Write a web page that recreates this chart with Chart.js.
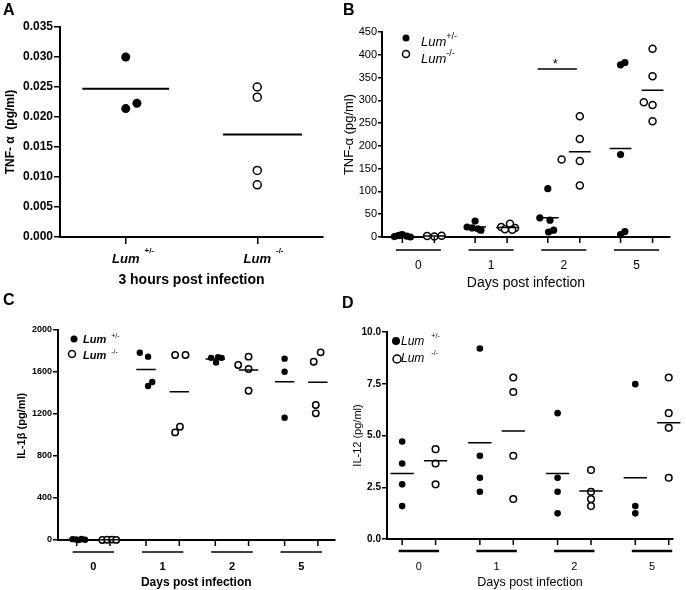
<!DOCTYPE html>
<html>
<head>
<meta charset="utf-8">
<script src="https://cdn.jsdelivr.net/npm/chart.js@4.4.0/dist/chart.umd.min.js"></script>
<style>
body { margin: 0; background: #fff; }
#fig { position: relative; width: 686px; height: 590px; overflow: hidden; background: #fff; }
canvas { position: absolute; }
.tag { position: absolute; font: bold 16px 'Liberation Sans', Arial, sans-serif; line-height: 16px; color: #000; }
</style>
</head>
<body>
<div id="fig">
  <canvas id="cA" width="340" height="300" style="left:0;top:0"></canvas>
  <canvas id="cB" width="346" height="300" style="left:340px;top:0"></canvas>
  <canvas id="cC" width="340" height="290" style="left:0;top:300px"></canvas>
  <canvas id="cD" width="346" height="290" style="left:340px;top:300px"></canvas>
  <div class="tag" style="left:3px;top:2px">A</div>
  <div class="tag" style="left:343px;top:2px">B</div>
  <div class="tag" style="left:3px;top:292px">C</div>
  <div class="tag" style="left:342px;top:295px">D</div>
</div>
<script>
// panel A: TNF-a 3 hours post infection
const aGenos = ['+/-', '-/-'];
const aHet = [0.0300, 0.0214, 0.0223];
const aHetJit = [0, 0, 0.085];
const aKo = [0.0250, 0.0233, 0.0111, 0.0087];
const aMeans = [0.0247, 0.0171];

// panels B-D share the days
const days = ['0', '1', '2', '5'];

// B: TNF-a (pg/ml)
const bHet = [[1, 3, 5, 2, 0, 4], [35, 22, 20, 18, 15], [106, 42, 37, 15, 11], [378, 383, 181, 12, 5]];
const bHetJit = [[-0.11, -0.06, 0, 0.06, 0.11, -0.03], [0, -0.11, -0.04, 0.04, 0.08], [0, -0.11, 0.03, 0.08, 0.01], [0, 0.06, 0, 0.06, 0]];
const bKo = [[2, 1, 3], [29, 22, 20, 17, 16], [265, 215, 170, 167, 113], [413, 353, 296, 290, 254]];
const bKoJit = [[-0.1, 0, 0.1], [0.04, -0.08, 0.11, -0.03, 0.07], [0, 0, -0.25, 0, 0], [0, 0, -0.12, 0, 0]];
const bHetMean = [2, 22, 42, 194];
const bKoMean = [2, 21, 187, 322];
const bSigY = 369;
const bSigSpan = [1.64, 2.18];

// C: IL-1b (pg/ml)
const cHet = [[8, 5, 0, 10, 3], [1784, 1746, 1505, 1467], [1735, 1740, 1735, 1690], [1727, 1603, 1165]];
const cHetJit = [[-0.06, -0.01, 0.03, 0.07, 0.12], [-0.09, 0.03, 0.09, 0.03], [-0.06, 0.04, 0.09, 0.01], [0, 0, 0]];
const cKo = [[0, 2, 4, 1], [1762, 1762, 1079, 1025], [1746, 1667, 1629, 1422], [1787, 1698, 1286, 1206]];
const cKoJit = [[-0.11, -0.04, 0.03, 0.09], [-0.06, 0.09, 0.01, -0.06], [0, -0.15, 0, 0], [0.04, -0.06, -0.03, -0.03]];
const cHetMean = [4, 1625, 1724, 1508];
const cKoMean = [2, 1413, 1619, 1502];

// D: IL-12 (pg/ml)
const dHet = [[4.71, 3.65, 2.64, 1.59], [9.2, 4.02, 2.96, 2.28], [6.08, 2.96, 2.28, 1.24], [7.48, 1.59, 1.24]];
const dKo = [[4.34, 3.65, 2.64], [7.8, 7.1, 4.02, 1.93], [3.33, 2.28, 1.93, 1.59], [7.8, 6.08, 5.37, 2.96]];
const dHetMean = [3.17, 4.65, 3.17, 2.96];
const dKoMean = [3.78, 5.22, 2.32, 5.61];

const FONT = "'Liberation Sans', Arial, sans-serif";
const f = (size, weight, style) => ({ family: FONT, size: size, weight: weight || 'normal', style: style || 'normal' });

function filled(data, r) {
  return { data: data, pointRadius: r, backgroundColor: '#000', borderColor: '#000', borderWidth: 0, clip: false };
}
function open(data, r) {
  return { data: data, pointRadius: r, backgroundColor: '#fff', borderColor: '#000', borderWidth: 1.5, clip: false };
}
function meanLine(data, w) {
  return { data: data, showLine: true, pointRadius: 0, borderColor: '#000', borderWidth: w || 1.5, spanGaps: false, clip: false };
}

// points of one genotype across the day groups
function groupPts(vals, jit, side, col) {
  const out = [];
  vals.forEach((g, i) => g.forEach((y, k) => out.push({ x: i + side * col + (jit ? jit[i][k] : 0), y: y })));
  return out;
}
function groupMeans(means, side, col, half) {
  const out = [];
  means.forEach((y, i) => {
    const c = i + side * col;
    out.push({ x: c - half, y: y }, { x: c + half, y: y }, { x: c, y: null });
  });
  return out;
}

function drawLum(ctx, x, y, sup, o) {
  ctx.fillStyle = '#000';
  ctx.textAlign = 'left';
  ctx.textBaseline = 'alphabetic';
  ctx.font = o.style + ' ' + o.size + 'px ' + FONT;
  ctx.fillText('Lum', x, y);
  const w = ctx.measureText('Lum').width;
  ctx.font = o.supWeight + ' ' + o.supSize + 'px ' + FONT;
  ctx.fillText(sup, x + w + o.gap, y - o.rise);
  return w;
}

function line(ctx, x1, y1, x2, y2, w) {
  ctx.lineWidth = w;
  ctx.beginPath();
  ctx.moveTo(x1, y1);
  ctx.lineTo(x2, y2);
  ctx.stroke();
}

function decoPlugin(o) {
  return {
    id: 'deco',
    afterDraw(chart) {
      const ctx = chart.ctx, xs = chart.scales.x, ys = chart.scales.y, ca = chart.chartArea;
      ctx.save();
      ctx.strokeStyle = '#000';
      if (o.groups) {
        o.groups.forEach((g, i) => {
          [-1, 1].forEach(s => {
            const px = xs.getPixelForValue(i + s * o.col);
            line(ctx, px, ca.bottom, px, ca.bottom + 6, 1.5);
          });
          line(ctx, xs.getPixelForValue(i - o.bar), ca.bottom + o.barDrop,
               xs.getPixelForValue(i + o.bar), ca.bottom + o.barDrop, o.barW);
        });
      }
      if (o.xLum) {
        o.xLum.forEach((sup, i) => {
          ctx.font = o.xLumFont.style + ' ' + o.xLumFont.size + 'px ' + FONT;
          const w = ctx.measureText('Lum').width;
          drawLum(ctx, xs.getPixelForValue(i) - w / 2, ca.bottom + o.xLumDrop, sup, o.xLumFont);
        });
      }
      if (o.legend) {
        const L = o.legend;
        ['+/-', '-/-'].forEach((sup, k) => {
          const m = L.marks[k];
          ctx.beginPath();
          ctx.arc(ca.left + m[0], ca.top + m[1], L.r, 0, Math.PI * 2);
          if (k === 0) { ctx.fillStyle = '#000'; ctx.fill(); }
          else { ctx.fillStyle = '#fff'; ctx.fill(); ctx.lineWidth = 1.5; ctx.stroke(); }
          drawLum(ctx, ca.left + L.textX, ca.top + L.base[k], sup, L.font);
        });
      }
      if (o.sig) {
        const y = ys.getPixelForValue(o.sig.y);
        line(ctx, xs.getPixelForValue(o.sig.span[0]), y, xs.getPixelForValue(o.sig.span[1]), y, 1.5);
        ctx.fillStyle = '#000';
        ctx.font = '13px ' + FONT;
        ctx.textAlign = 'center';
        ctx.textBaseline = 'alphabetic';
        ctx.fillText('*', (xs.getPixelForValue(o.sig.span[0]) + xs.getPixelForValue(o.sig.span[1])) / 2 - 2, y - 1);
      }
      ctx.restore();
    }
  };
}

function panel(id, o) {
  const aw = o.axisW || 2;
  return new Chart(document.getElementById(id), {
    type: 'scatter',
    data: { datasets: o.datasets },
    options: {
      responsive: false,
      animation: false,
      layout: { padding: o.pad },
      plugins: { legend: { display: false }, tooltip: { enabled: false } },
      scales: {
        x: {
          type: 'linear', min: o.xMin, max: o.xMax,
          afterBuildTicks: s => { s.ticks = o.xTicks.map(v => ({ value: v })); },
          afterFit: s => { s.height = o.xH; },
          border: { color: '#000', width: aw },
          grid: { drawOnChartArea: false, drawTicks: o.xTickMarks, tickLength: 7, color: '#000', lineWidth: 1.5 },
          ticks: { callback: (v, i) => o.xLabels[i], padding: o.xPad, color: '#000', font: o.xFont, maxRotation: 0, autoSkip: false },
          title: { display: true, text: o.xTitle, color: '#000', font: o.xTitleFont, padding: { top: 0, bottom: o.xTitlePad } }
        },
        y: {
          min: 0, max: o.yMax,
          afterFit: s => { s.width = o.yW; },
          border: { color: '#000', width: aw },
          grid: { drawOnChartArea: false, tickLength: o.yTickLen, color: '#000', lineWidth: 1.5 },
          ticks: { stepSize: o.yStep, callback: o.yFmt, padding: o.yPad, color: '#000', font: o.yFont },
          title: { display: true, text: o.yTitle, color: '#000', font: o.yTitleFont, padding: { top: o.yTitlePad, bottom: 0 } }
        }
      }
    },
    plugins: [decoPlugin(o.deco)]
  });
}

// ---- A
panel('cA', {
  datasets: [
    meanLine([{ x: -0.33, y: aMeans[0] }, { x: 0.33, y: aMeans[0] }, { x: 0.5, y: null },
              { x: 0.74, y: aMeans[1] }, { x: 1.34, y: aMeans[1] }], 2),
    filled(aHet.map((y, k) => ({ x: aHetJit[k], y: y })), 4.5),
    open(aKo.map(y => ({ x: 1, y: y })), 4)
  ],
  pad: { left: 0, top: 27, right: 17, bottom: 0 },
  xMin: -0.5, xMax: 1.5, xTicks: [0, 1], xLabels: ['', ''], xTickMarks: true, xPad: 0,
  xFont: f(12, 'bold'), xH: 63,
  xTitle: '3 hours post infection', xTitleFont: f(14, 'bold'), xTitlePad: 11.6,
  yMax: 0.035, yStep: 0.005, yFmt: v => v.toFixed(3), yW: 60, yTickLen: 6, yPad: 1,
  yFont: f(12, 'bold'), yTitle: 'TNF- \u03b1  (pg/ml)', yTitleFont: f(12, 'bold'), yTitlePad: 3,
  deco: {
    xLum: aGenos, xLumDrop: 26,
    xLumFont: { style: 'italic bold', size: 13, supWeight: 'bold', supSize: 8, gap: 5, rise: 10 }
  }
});

// ---- B
panel('cB', {
  datasets: [
    meanLine(groupMeans(bHetMean, -1, 0.22, 0.15)),
    meanLine(groupMeans(bKoMean, 1, 0.22, 0.15)),
    filled(groupPts(bHet, bHetJit, -1, 0.22), 3.6),
    open(groupPts(bKo, bKoJit, 1, 0.22), 3.5)
  ],
  pad: { left: 0, top: 32, right: 16, bottom: 0 },
  xMin: -0.5, xMax: 3.46, xTicks: [0, 1, 2, 3], xLabels: days, xTickMarks: false, xPad: 21,
  xFont: f(12), xH: 63,
  xTitle: 'Days post infection', xTitleFont: f(14), xTitlePad: 8.6,
  yMax: 450, yStep: 50, yFmt: v => String(v), yW: 42, yTickLen: 4, yPad: 1,
  yFont: f(11), yTitle: 'TNF-\u03b1 (pg/ml)', yTitleFont: f(13), yTitlePad: 2,
  deco: {
    groups: days, col: 0.22, bar: 0.31, barDrop: 13, barW: 1.5,
    legend: { marks: [[24, 6], [24, 22]], r: 3.5, textX: 39, base: [14, 31],
              font: { style: 'italic', size: 13, supWeight: 'normal', supSize: 9, gap: 0, rise: 7 } },
    sig: { y: bSigY, span: bSigSpan }
  }
});

// ---- C (title nudged up with leading spaces, as in the figure)
panel('cC', {
  datasets: [
    meanLine(groupMeans(cHetMean, -1, 0.24, 0.14)),
    meanLine(groupMeans(cKoMean, 1, 0.24, 0.14)),
    filled(groupPts(cHet, cHetJit, -1, 0.24), 3.2),
    open(groupPts(cKo, cKoJit, 1, 0.24), 3.2)
  ],
  pad: { left: 0, top: 30, right: 5, bottom: 0 },
  xMin: -0.51, xMax: 3.48, xTicks: [0, 1, 2, 3], xLabels: days, xTickMarks: false, xPad: 20.4,
  xFont: f(11, 'bold'), xH: 50,
  xTitle: 'Days post infection', xTitleFont: f(12, 'bold'), xTitlePad: 0,
  yMax: 2000, yStep: 400, yFmt: v => String(v), yW: 58, yTickLen: 5, yPad: 1,
  yFont: f(9, 'bold'), yTitle: '\u00a0\u00a0\u00a0\u00a0\u00a0\u00a0IL-1\u03b2 (pg/ml)', yTitleFont: f(11, 'bold'), yTitlePad: 15,
  deco: {
    groups: days, col: 0.24, bar: 0.3, barDrop: 12, barW: 1.5,
    legend: { marks: [[16, 9], [14, 24]], r: 3.5, textX: 25, base: [13, 29],
              font: { style: 'italic bold', size: 11, supWeight: 'normal', supSize: 7, gap: 5, rise: 5 } }
  }
});

// ---- D
panel('cD', {
  datasets: [
    meanLine(groupMeans(dHetMean, -1, 0.215, 0.15)),
    meanLine(groupMeans(dKoMean, 1, 0.215, 0.15)),
    filled(groupPts(dHet, null, -1, 0.215), 3.3),
    open(groupPts(dKo, null, 1, 0.215), 3.3)
  ],
  pad: { left: 0, top: 32, right: 13, bottom: 0 },
  xMin: -0.41, xMax: 3.27, xTicks: [0, 1, 2, 3], xLabels: days, xTickMarks: false, xPad: 21.4,
  xFont: f(11), xH: 51,
  xTitle: 'Days post infection', xTitleFont: f(12.5), xTitlePad: 0,
  yMax: 10, yStep: 2.5, yFmt: v => v.toFixed(1), yW: 47, yTickLen: 5, yPad: 1,
  yFont: f(10, 'bold'), yTitle: 'IL-12 (pg/ml)', yTitleFont: f(11), yTitlePad: 11,
  deco: {
    groups: days, col: 0.215, bar: 0.26, barDrop: 12, barW: 2.5,
    legend: { marks: [[9, 9], [10, 27]], r: 4, textX: 14, base: [13, 30],
              font: { style: 'italic', size: 12, supWeight: 'normal', supSize: 7, gap: 7, rise: 7 } }
  }
});
</script>
</body>
</html>
